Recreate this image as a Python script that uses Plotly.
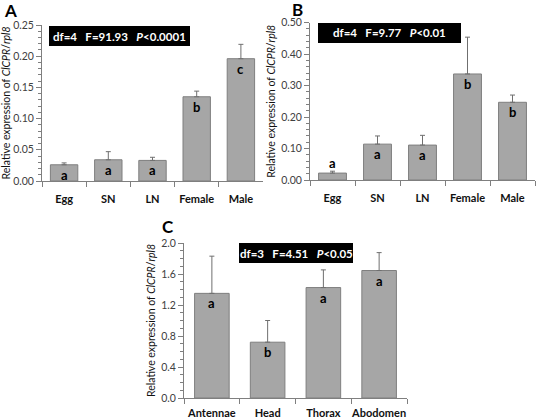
import plotly.graph_objects as go

W, H = 537, 420

# Panel A
cats_a = ["Egg", "SN", "LN", "Female", "Male"]
vals_a = [0.026, 0.034, 0.033, 0.135, 0.196]
errtop_a = [0.029, 0.047, 0.038, 0.144, 0.219]
letters_a = ["a", "a", "a", "b", "c"]

# Panel B
cats_b = ["Egg", "SN", "LN", "Female", "Male"]
vals_b = [0.022, 0.114, 0.111, 0.337, 0.247]
errtop_b = [0.028, 0.140, 0.142, 0.454, 0.270]
letters_b = ["a", "a", "a", "b", "b"]

# Panel C
cats_c = ["Antennae", "Head", "Thorax", "Abodomen"]
vals_c = [1.35, 0.72, 1.425, 1.645]
errtop_c = [1.83, 1.00, 1.653, 1.876]
letters_c = ["a", "b", "a", "a"]

SP = "\u00a0\u00a0\u00a0"
stats_a = "df=4" + SP + "F=91.93" + SP + "<i>P</i><0.0001"
stats_b = "df=4" + SP + "F=9.77" + SP + "<i>P</i><0.01"
stats_c = "df=3" + SP + "F=4.51" + SP + "<i>P</i><0.05"

FONT = "Lato, Liberation Sans, Arial"
BAR_FILL = "#a6a6a6"
BAR_LINE = "#7f7f7f"
AX = "#7f7f7f"

def px_x(p):
    return p / W

def px_y(p):
    return 1 - p / H

fig = go.Figure()

panels = [
    dict(cats=cats_a, vals=vals_a, err=errtop_a, let=letters_a, xa="x", ya="y",
         xd=(42, 263), yd=(25, 181), rng=(0, 0.25), dt=0.05, mdt=0.01, fmt=".2f",
         box=(49, 190, 26, 46), stats=stats_a, label="A", lab_xy=(10, 10), so=8),
    dict(cats=cats_b, vals=vals_b, err=errtop_b, let=letters_b, xa="x2", ya="y2",
         xd=(310, 535), yd=(22.7, 180), rng=(0, 0.5), dt=0.1, mdt=0.02, fmt=".2f",
         box=(318, 461, 23, 43), stats=stats_b, label="B", lab_xy=(297, 9), so=8),
    dict(cats=cats_c, vals=vals_c, err=errtop_c, let=letters_c, xa="x3", ya="y3",
         xd=(184, 407), yd=(243, 398), rng=(0, 2.0), dt=0.4, mdt=0.1, fmt=".1f",
         box=(239, 353, 243, 263), stats=stats_c, label="C", lab_xy=(168, 226), so=5),
]

annotations = []
shapes = []
for i, p in enumerate(panels):
    sfx = "" if i == 0 else str(i + 1)
    fig.add_trace(go.Bar(
        x=p["cats"], y=p["vals"], xaxis=p["xa"], yaxis=p["ya"],
        width=0.62,
        marker=dict(color=BAR_FILL, line=dict(color=BAR_LINE, width=1)),
        error_y=dict(type="data", symmetric=False,
                     array=[e - v for e, v in zip(p["err"], p["vals"])],
                     arrayminus=[0] * len(p["vals"]),
                     color="#6f6f6f", thickness=1, width=2.5),
        showlegend=False, hoverinfo="skip",
    ))
    fig.layout["xaxis" + sfx] = dict(
        domain=[px_x(p["xd"][0]), px_x(p["xd"][1])],
        anchor="y" + sfx, showline=True, linecolor=AX, linewidth=1,
        ticks="outside", tickson="boundaries", ticklen=5, tickcolor=AX,
        tickangle=0, ticklabelstandoff=p["so"], automargin=False,
        tickfont=dict(family=FONT, size=11, color="#111111", weight="bold"),
        showgrid=False, zeroline=False, fixedrange=True,
    )
    fig.layout["yaxis" + sfx] = dict(
        domain=[px_y(p["yd"][1]), px_y(p["yd"][0])],
        anchor="x" + sfx, range=list(p["rng"]), dtick=p["dt"], tick0=0,
        tickformat=p["fmt"], showline=True, linecolor=AX, linewidth=1,
        ticks="outside", ticklen=5, tickcolor=AX, automargin=False,
        minor=dict(dtick=p["mdt"], ticks="outside", ticklen=3, tickcolor=AX),
        tickfont=dict(family=FONT, size=10.5, color="#404040"),
        showgrid=False, zeroline=False, fixedrange=True,
        title=dict(text="Relative expression of <i>ClCPR</i>/<i>rpl8</i>",
                   font=dict(family=FONT, size=10.5, color="#111111"), standoff=3),
    )
    # stats box
    x0, x1, y0, y1 = p["box"]
    shapes.append(dict(type="rect", xref="paper", yref="paper",
                       x0=px_x(x0), x1=px_x(x1), y0=px_y(y1), y1=px_y(y0),
                       fillcolor="black", line=dict(width=0)))
    annotations.append(dict(xref="paper", yref="paper",
                            x=px_x((x0 + x1) / 2), y=px_y((y0 + y1) / 2),
                            text=p["stats"], showarrow=False,
                            font=dict(family=FONT, size=11.5, color="white", weight="bold"),
                            xanchor="center", yanchor="middle"))
    # panel label
    annotations.append(dict(xref="paper", yref="paper",
                            x=px_x(p["lab_xy"][0]), y=px_y(p["lab_xy"][1]),
                            text="<b>" + p["label"] + "</b>", showarrow=False,
                            font=dict(family=FONT, size=17, color="black"),
                            xanchor="center", yanchor="middle"))
    # significance letters
    for j, (c, v, e, l) in enumerate(zip(p["cats"], p["vals"], p["err"], p["let"])):
        if i == 1 and j == 0:
            annotations.append(dict(xref=p["xa"], yref=p["ya"], x=c, y=e,
                                    text="<b>" + l + "</b>", showarrow=False,
                                    yanchor="bottom", yshift=-2,
                                    font=dict(family=FONT, size=13, color="black")))
        else:
            annotations.append(dict(xref=p["xa"], yref=p["ya"], x=c, y=v,
                                    text="<b>" + l + "</b>", showarrow=False,
                                    yanchor="top", yshift=0,
                                    font=dict(family=FONT, size=13, color="black")))

fig.update_layout(
    width=W, height=H, margin=dict(l=0, r=0, t=0, b=0, autoexpand=False),
    paper_bgcolor="white", plot_bgcolor="white",
    annotations=annotations, shapes=shapes, bargap=0.38,
)

fig.write_html("out.html", config={"displayModeBar": False, "staticPlot": True},
               post_script="document.body.style.margin='0';document.body.style.overflow='hidden';")
